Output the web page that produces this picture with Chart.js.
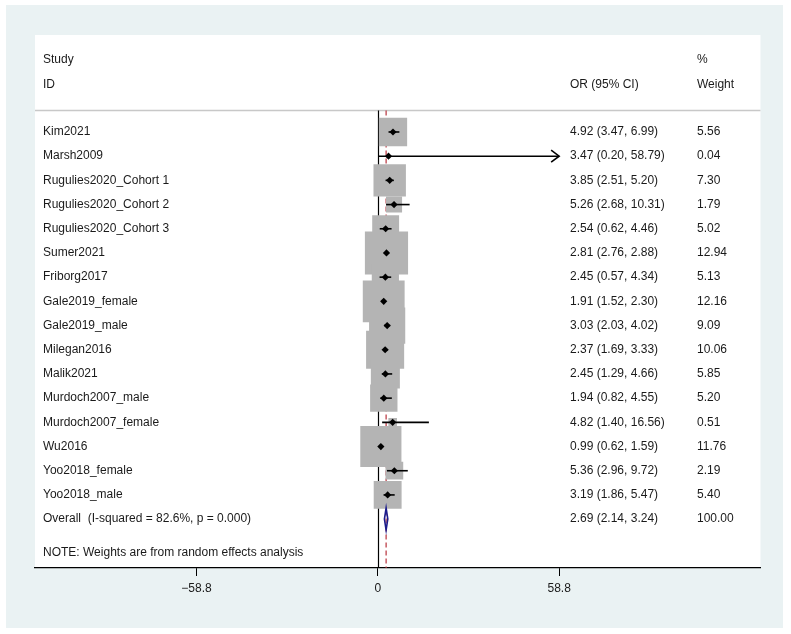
<!DOCTYPE html>
<html>
<head>
<meta charset="utf-8">
<script src="https://cdn.jsdelivr.net/npm/chart.js@4.4.1/dist/chart.umd.min.js"></script>
<style>
  html, body { margin: 0; padding: 0; background: #fff; }
  #forest { display: block; }
</style>
</head>
<body>
<canvas id="forest" width="791" height="634"></canvas>
<script>
(function () {
    'use strict';

    // study data
    var studies = ['Kim2021', 'Marsh2009', 'Rugulies2020_Cohort 1', 'Rugulies2020_Cohort 2', 'Rugulies2020_Cohort 3',
        'Sumer2021', 'Friborg2017', 'Gale2019_female', 'Gale2019_male', 'Milegan2016', 'Malik2021',
        'Murdoch2007_male', 'Murdoch2007_female', 'Wu2016', 'Yoo2018_female', 'Yoo2018_male'];
    var oddsRatio = [4.92, 3.47, 3.85, 5.26, 2.54, 2.81, 2.45, 1.91, 3.03, 2.37, 2.45, 1.94, 4.82, 0.99, 5.36, 3.19];
    var ciLow = [3.47, 0.20, 2.51, 2.68, 0.62, 2.76, 0.57, 1.52, 2.03, 1.69, 1.29, 0.82, 1.40, 0.62, 2.96, 1.86];
    var ciHigh = [6.99, 58.79, 5.20, 10.31, 4.46, 2.88, 4.34, 2.30, 4.02, 3.33, 4.66, 4.55, 16.56, 1.59, 9.72, 5.47];
    var weights = [5.56, 0.04, 7.30, 1.79, 5.02, 12.94, 5.13, 12.16, 9.09, 10.06, 5.85, 5.20, 0.51, 11.76, 2.19, 5.40];
    var overall = { label: 'Overall  (I-squared = 82.6%, p = 0.000)', or: 2.69, lo: 2.14, hi: 3.24, weight: 100.00 };
    var xTicks = [-58.8, 0, 58.8];
    var note = 'NOTE: Weights are from random effects analysis';

    var FONT = '12px "Liberation Sans", Arial, sans-serif';
    var COL_OR = 570, COL_W = 697, COL_STUDY = 43;
    var BOX_K = 12; // px per sqrt(weight)

    function fmt(v) { return v.toFixed(2); }
    function fmtTick(v) { return v < 0 ? '\u2212' + Math.abs(v) : String(v); }

    var markerPts = studies.map(function (s, i) { return { x: oddsRatio[i], y: i }; });
    var boxRadius = weights.map(function (w) { return BOX_K * Math.sqrt(w) / (2 * Math.SQRT1_2); });

    var forestPlugin = {
        id: 'forest',
        beforeDraw: function (chart) {
            var c = chart.ctx, a = chart.chartArea;
            c.save();
            c.fillStyle = '#ffffff';
            c.fillRect(0, 0, chart.width, chart.height);
            c.fillStyle = '#eaf2f3';
            c.fillRect(6, 5, 777, 623);
            c.fillStyle = '#ffffff';
            c.fillRect(a.left, a.top, a.right - a.left, a.bottom - a.top);
            c.restore();
        },
        beforeDatasetsDraw: function (chart) {
            var c = chart.ctx, a = chart.chartArea, xs = chart.scales.x, ys = chart.scales.y;
            var sepY = Math.round(ys.getPixelForValue(-0.91)) + 0.5;
            c.save();
            c.strokeStyle = '#c8c8c8';
            c.lineWidth = 1.5;
            c.beginPath(); c.moveTo(a.left, sepY); c.lineTo(a.right, sepY); c.stroke();
            var x0 = Math.round(xs.getPixelForValue(0)) + 0.5;
            c.strokeStyle = '#000';
            c.lineWidth = 1.2;
            c.beginPath(); c.moveTo(x0, sepY); c.lineTo(x0, a.bottom); c.stroke();
            var xo = xs.getPixelForValue(overall.or);
            c.strokeStyle = '#b8323c';
            c.lineWidth = 1.2;
            c.setLineDash([5, 3]);
            c.beginPath(); c.moveTo(xo, sepY); c.lineTo(xo, a.bottom); c.stroke();
            c.restore();
        },
        afterDatasetDraw: function (chart, args) {
            if (args.index !== 1) { return; }
            var c = chart.ctx, xs = chart.scales.x, ys = chart.scales.y;
            var xMax = xs.getPixelForValue(xTicks[xTicks.length - 1]);
            c.save();
            c.strokeStyle = '#000';
            c.lineWidth = 1.6;
            studies.forEach(function (s, i) {
                var y = ys.getPixelForValue(i);
                var x1 = xs.getPixelForValue(ciLow[i]);
                var x2 = Math.min(xs.getPixelForValue(ciHigh[i]), xMax);
                c.beginPath(); c.moveTo(x1, y); c.lineTo(x2, y); c.stroke();
                if (ciHigh[i] >= xTicks[xTicks.length - 1] - 0.05) {
                    c.beginPath();
                    c.moveTo(x2 - 8, y - 6); c.lineTo(x2, y); c.lineTo(x2 - 8, y + 6);
                    c.stroke();
                }
            });
            c.restore();
        },
        afterDatasetsDraw: function (chart) {
            var c = chart.ctx, xs = chart.scales.x, ys = chart.scales.y;
            // overall diamond
            var yo = ys.getPixelForValue(studies.length);
            c.save();
            c.strokeStyle = '#1c1c8c';
            c.lineWidth = 1.6;
            c.beginPath();
            c.moveTo(xs.getPixelForValue(overall.lo), yo);
            c.lineTo(xs.getPixelForValue(overall.or), yo - 11);
            c.lineTo(xs.getPixelForValue(overall.hi), yo);
            c.lineTo(xs.getPixelForValue(overall.or), yo + 11);
            c.closePath();
            c.stroke();

            // text columns
            c.fillStyle = '#1a1a1a';
            c.font = FONT;
            c.textBaseline = 'middle';
            c.textAlign = 'left';
            var yStudy = ys.getPixelForValue(-2.975), yId = ys.getPixelForValue(-1.94);
            c.fillText('Study', COL_STUDY, yStudy);
            c.fillText('ID', COL_STUDY, yId);
            c.fillText('OR (95% CI)', COL_OR, yId);
            c.fillText('%', COL_W, yStudy);
            c.fillText('Weight', COL_W, yId);
            studies.forEach(function (s, i) {
                var y = ys.getPixelForValue(i);
                c.fillText(s, COL_STUDY, y);
                c.fillText(fmt(oddsRatio[i]) + ' (' + fmt(ciLow[i]) + ', ' + fmt(ciHigh[i]) + ')', COL_OR, y);
                c.fillText(fmt(weights[i]), COL_W, y);
            });
            c.fillText(overall.label, COL_STUDY, yo);
            c.fillText(fmt(overall.or) + ' (' + fmt(overall.lo) + ', ' + fmt(overall.hi) + ')', COL_OR, yo);
            c.fillText(fmt(overall.weight), COL_W, yo);
            c.fillText(note, COL_STUDY, ys.getPixelForValue(studies.length + 1.4));
            c.restore();
        }
    };

    new Chart(document.getElementById('forest'), {
        type: 'scatter',
        data: {
            datasets: [
                { label: 'OR', data: markerPts, order: 1, pointStyle: 'rectRot', pointRadius: 3.6,
                    backgroundColor: '#000', borderColor: '#000', borderWidth: 0 },
                { label: 'Weight', data: markerPts, order: 2, pointStyle: 'rect', pointRadius: boxRadius,
                    backgroundColor: '#b4b4b4', borderColor: '#b4b4b4', borderWidth: 0 }
            ]
        },
        options: {
            responsive: false,
            devicePixelRatio: 1,
            animation: false,
            events: [],
            layout: { padding: { left: 35, right: 28, top: 35, bottom: 0 } },
            plugins: { legend: { display: false }, tooltip: { enabled: false } },
            scales: {
                x: {
                    type: 'linear', min: -111.15, max: 124.07, position: 'bottom',
                    afterBuildTicks: function (s) { s.ticks = xTicks.map(function (v) { return { value: v }; }); },
                    afterFit: function (s) { s.height = 66; },
                    grid: { drawOnChartArea: false, drawTicks: true, tickLength: 8, color: '#000', lineWidth: 1 },
                    border: { display: true, color: '#000', width: 1.2 },
                    ticks: { color: '#1a1a1a', padding: 5, maxRotation: 0, font: { family: '"Liberation Sans", Arial, sans-serif', size: 12 },
                        callback: function (v) { return fmtTick(v); } }
                },
                y: { type: 'linear', reverse: true, min: -4.008, max: 18.02, display: false }
            }
        },
        plugins: [forestPlugin]
    });
})();
</script>
</body>
</html>
